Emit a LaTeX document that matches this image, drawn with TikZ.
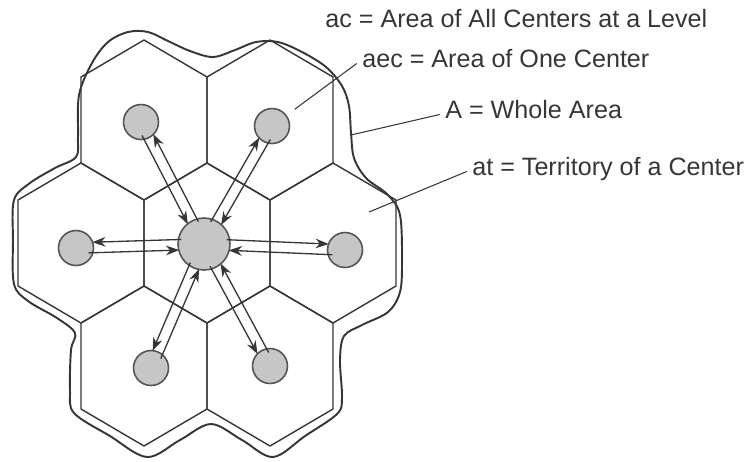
\documentclass[tikz,border=0pt]{standalone}
\usepackage{fontspec}
\setmainfont{Liberation Sans}
\usetikzlibrary{calc,arrows.meta}

\definecolor{ink}{HTML}{363636}
\definecolor{dot}{HTML}{C6C6C6}

% one territory, centre given in picture units
\newcommand{\hexcell}[2]{%
  \draw[cell] (#1,#2-80) -- (#1+63,#2-43) -- (#1+63,#2+43) -- (#1,#2+80)
    -- (#1-63,#2+43) -- (#1-63,#2-43) -- cycle;}

\begin{document}
\begin{tikzpicture}[x=0.02cm, y=-0.02cm, every path/.style={line join=round},
  cell/.style={draw=ink, line width=0.8pt},
  rim/.style={draw=ink, line width=1.1pt},
  hub/.style={draw=ink!85, fill=dot, circle, line width=0.9pt, minimum size=1.04cm, inner sep=0pt},
  site/.style={draw=ink!85, fill=dot, circle, line width=0.9pt, minimum size=0.7cm, inner sep=0pt},
  flow/.style={draw=ink, line width=0.75pt, -{Stealth[length=7.5pt,width=5.5pt]}},
  outflow/.style={flow, shorten <=0.45cm, shorten >=0.33cm},
  inflow/.style={flow, shorten <=0.25cm, shorten >=0.5cm},
  leader/.style={draw=ink, line width=0.6pt},
  note/.style={anchor=base west, inner sep=0pt, text=ink, font=\fontsize{14.3}{17}\selectfont}]
\useasboundingbox (0,0) rectangle (749,461);

% whole area
\draw[rim] plot[smooth cycle, tension=0.55] coordinates {
  (78,137) (79,95) (92,63) (108,42) (128,32) (148,32) (168,41) (190,51)
  (213,57) (235,50) (256,42) (278,42) (302,52) (326,67) (342,86) (349,106)
  (351,133) (354,158) (366,178) (388,195) (400,215) (402,260) (400,292)
  (388,312) (362,325) (344,336) (340,360) (342,398) (337,414) (305,436)
  (273,457) (242,440) (211,424) (180,440) (147,457) (110,436) (74,413)
  (70,390) (71,350) (75,333) (57,318) (28,301) (14,284) (13,240) (14,200)
  (30,183) (55,168) (76,157)};

% territories
\hexcell{207}{243}
\hexcell{81}{243}
\hexcell{333}{243}
\hexcell{144}{120}
\hexcell{270}{120}
\hexcell{144}{366}
\hexcell{270}{366}

% centers
\node[hub] (c0) at (204,244) {};
\node[site] (c1) at (141,122) {};
\node[site] (c2) at (272,126) {};
\node[site] (c3) at (76,248) {};
\node[site] (c4) at (345,250) {};
\node[site] (c5) at (151,368) {};
\node[site] (c6) at (270,366) {};

% flows to and from the middle
\draw[outflow] ($(c0)!3pt!-90:(c1)$) -- ($(c1)!3pt!90:(c0)$);
\draw[inflow] ($(c1)!3pt!-90:(c0)$) -- ($(c0)!3pt!90:(c1)$);
\draw[outflow] ($(c0)!3pt!90:(c2)$) -- ($(c2)!3pt!-90:(c0)$);
\draw[inflow] ($(c2)!3pt!90:(c0)$) -- ($(c0)!3pt!-90:(c2)$);
\draw[outflow] ($(c0)!3pt!-90:(c3)$) -- ($(c3)!3pt!90:(c0)$);
\draw[inflow] ($(c3)!3pt!-90:(c0)$) -- ($(c0)!3pt!90:(c3)$);
\draw[outflow] ($(c0)!3pt!90:(c4)$) -- ($(c4)!3pt!-90:(c0)$);
\draw[inflow] ($(c4)!3pt!90:(c0)$) -- ($(c0)!3pt!-90:(c4)$);
\draw[outflow] ($(c0)!3pt!-90:(c5)$) -- ($(c5)!3pt!90:(c0)$);
\draw[inflow] ($(c5)!3pt!-90:(c0)$) -- ($(c0)!3pt!90:(c5)$);
\draw[outflow] ($(c0)!3pt!-90:(c6)$) -- ($(c6)!3pt!90:(c0)$);
\draw[inflow] ($(c6)!3pt!-90:(c0)$) -- ($(c0)!3pt!90:(c6)$);

% legend
\node[note] (lac) at (325,27) {ac = Area of All Centers at a Level};
\node[note] (laec) at (362,67) {aec = Area of One Center};
\node[note] (lA) at (445,118) {A = Whole Area};
\node[note] (lat) at (472,175) {at = Territory of a Center};

\coordinate (pA) at (351,135);
\coordinate (pat) at (369,212);

\draw[leader, shorten >=0.2cm] ([xshift=-3pt,yshift=2pt]laec.base west) -- (c2);
\draw[leader] ([xshift=-3pt,yshift=2pt]lA.base west) -- (pA);
\draw[leader] ([xshift=-3pt,yshift=2pt]lat.base west) -- (pat);

\end{tikzpicture}
\end{document}
